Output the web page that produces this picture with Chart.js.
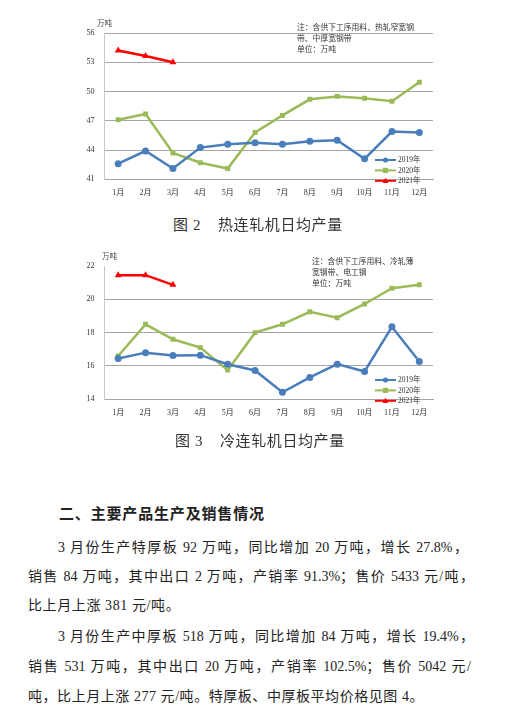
<!DOCTYPE html>
<html>
<head>
<meta charset="utf-8">
<title>热连轧机、冷连轧机日均产量</title>
<script src="https://cdn.jsdelivr.net/npm/chart.js@4"></script>
<style>
    body { margin: 0; background: #fff; width: 532px; height: 728px; position: relative; overflow: hidden;
           font-family: "Liberation Serif", "Noto Sans CJK SC", serif; color: #222; }
    .box { position: absolute; width: 390px; height: 195px; }
    .abs { position: absolute; white-space: pre; }
    .note { font-family: "Noto Sans CJK SC", sans-serif; font-size: 7.8px; line-height: 11px; color: #333; }
    .unit { font-family: "Noto Sans CJK SC", sans-serif; font-size: 7.5px; color: #444; }
    .cap { font-size: 15px; line-height: 16px; color: #333; letter-spacing: 0.6px; }
    .line { position: absolute; font-size: 14px; line-height: 16px; white-space: nowrap; }
    .just { text-align: justify; text-align-last: justify; white-space: normal; }
    h2 { position: absolute; margin: 0; font-family: "Noto Sans CJK SC", sans-serif; font-weight: bold;
         font-size: 15px; line-height: 18px; left: 59px; top: 504px; width: 205px;
         text-align: justify; text-align-last: justify; }
</style>
</head>
<body>
<div class="box" style="left:60px;top:12px"><canvas id="hotChart"></canvas></div>
<div class="box" style="left:60px;top:245px"><canvas id="coldChart"></canvas></div>

<div class="abs unit" style="left:97px;top:17px">万吨</div>
<div class="abs note" style="left:297px;top:21px">注：含供下工序用料、热轧窄宽钢
带、中厚宽钢带
单位：万吨</div>
<div class="abs cap" style="left:173px;top:217px">图 2</div>
<div class="abs cap" style="left:218px;top:217px">热连轧机日均产量</div>

<div class="abs unit" style="left:102px;top:250px">万吨</div>
<div class="abs note" style="left:312px;top:255px">注：含供下工序用料、冷轧薄
宽钢带、电工钢
单位：万吨</div>
<div class="abs cap" style="left:175px;top:433px">图 3</div>
<div class="abs cap" style="left:220px;top:433px">冷连轧机日均产量</div>

<h2>二、主要产品生产及销售情况</h2>
<div class="line just" style="left:58px;top:540px;width:410px">3 月份生产特厚板 92 万吨，同比增加 20 万吨，增长 27.8%，</div>
<div class="line just" style="left:28px;top:569px;width:446px">销售 84 万吨，其中出口 2 万吨，产销率 91.3%；售价 5433 元/吨，</div>
<div class="line" style="left:28px;top:598px;letter-spacing:0.6px">比上月上涨 381 元/吨。</div>
<div class="line just" style="left:58px;top:629px;width:416px">3 月份生产中厚板 518 万吨，同比增加 84 万吨，增长 19.4%，</div>
<div class="line just" style="left:28px;top:659px;width:443px">销售 531 万吨，其中出口 20 万吨，产销率 102.5%；售价 5042 元/</div>
<div class="line" style="left:28px;top:689px;letter-spacing:0.55px">吨，比上月上涨 277 元/吨。特厚板、中厚板平均价格见图 4。</div>

<script>
    // 月份
    var months = ['1月', '2月', '3月', '4月', '5月', '6月', '7月', '8月', '9月', '10月', '11月', '12月'];
    var seriesNames = ['2019年', '2020年', '2021年'];

    // 图2 热连轧机日均产量（万吨）
    var hot2019 = [42.6, 43.9, 42.1, 44.25, 44.6, 44.75, 44.6, 44.9, 45.0, 43.1, 45.9, 45.8];
    var hot2020 = [47.1, 47.7, 43.7, 42.7, 42.1, 45.8, 47.55, 49.2, 49.5, 49.3, 49.0, 50.95];
    var hot2021 = [54.2, 53.65, 53.0];
    var hotAxis = [41, 56, 3];   // min, max, step

    // 图3 冷连轧机日均产量（万吨）
    var cold2019 = [16.45, 16.8, 16.63, 16.65, 16.1, 15.73, 14.42, 15.31, 16.11, 15.67, 18.35, 16.27];
    var cold2020 = [16.6, 18.5, 17.6, 17.1, 15.75, 18.0, 18.5, 19.25, 18.9, 19.72, 20.67, 20.87];
    var cold2021 = [21.45, 21.45, 20.87];
    var coldAxis = [14, 22, 2];

    var colors = ['#4A7EBB', '#9BBB59', '#FF0000'];
    var styles = ['circle', 'rect', 'triangle'];

    function marker(ctx, style, x, y, r) {
        ctx.beginPath();
        if (style === 'circle') {
            ctx.arc(x, y, r, 0, Math.PI * 2);
        } else if (style === 'rect') {
            ctx.rect(x - r, y - r, r * 2, r * 2);
        } else {
            ctx.moveTo(x, y - r * 1.2);
            ctx.lineTo(x + r * 1.1, y + r * 0.8);
            ctx.lineTo(x - r * 1.1, y + r * 0.8);
            ctx.closePath();
        }
        ctx.fill();
    }

    // legend tucked into the lower right corner of the plot
    var cornerLegend = {
        id: 'cornerLegend',
        afterDraw: function(chart) {
            var ctx = chart.ctx, area = chart.chartArea;
            var sets = chart.data.datasets;
            sets.forEach(function(ds, i) {
                var y = area.bottom + 1.5 - (sets.length - 1 - i) * 10.4;
                var x0 = area.right - 58;
                ctx.save();
                ctx.strokeStyle = ds.borderColor;
                ctx.fillStyle = ds.borderColor;
                ctx.lineWidth = 2;
                ctx.beginPath();
                ctx.moveTo(x0, y);
                ctx.lineTo(x0 + 21, y);
                ctx.stroke();
                marker(ctx, ds.pointStyle, x0 + 10.5, y, 2.6);
                ctx.fillStyle = '#333';
                ctx.font = '7.5px "Liberation Serif", "Noto Sans CJK SC"';
                ctx.textBaseline = 'middle';
                ctx.fillText(ds.label, x0 + 23, y + 0.5);
                ctx.restore();
            });
        }
    };

    function makeChart(id, data, axis, padBottom, hideTop) {
        var ctx = document.getElementById(id).getContext('2d');
        return new Chart(ctx, {
            type: 'line',
            data: {
                labels: months,
                datasets: data.map(function(values, i) {
                    return {
                        label: seriesNames[i],
                        data: values,
                        borderColor: colors[i],
                        backgroundColor: colors[i],
                        borderWidth: 2.5,
                        pointStyle: styles[i],
                        pointRadius: i === 2 ? 4 : 3.5,
                        pointBorderWidth: 0,
                        tension: 0
                    };
                })
            },
            options: {
                responsive: true,
                maintainAspectRatio: false,
                animation: false,
                layout: { padding: { left: 0, top: 21, right: 17, bottom: padBottom } },
                plugins: { legend: { display: false }, tooltip: { enabled: false } },
                scales: {
                    x: {
                        offset: true,
                        grid: { display: false, drawTicks: false },
                        border: { color: '#a6a6a6', width: 1 },
                        ticks: { color: '#333', padding: 9, maxRotation: 0, autoSkip: false,
                                 font: { family: '"Liberation Serif", "Noto Sans CJK SC"', size: 8 } },
                        afterFit: function(s) { s.height = 22; }
                    },
                    y: {
                        min: axis[0],
                        max: axis[1],
                        ticks: { stepSize: axis[2], color: '#333', padding: 10,
                                 font: { family: '"Liberation Serif"', size: 8 } },
                        grid: {
                            drawTicks: false,
                            lineWidth: 1,
                            color: function(c) {
                                if (hideTop && c.tick && c.tick.value === axis[1]) return 'rgba(0,0,0,0)';
                                return '#a6a6a6';
                            }
                        },
                        border: { color: '#c8c8c8', width: 1 },
                        afterFit: function(s) { s.width = 44.5; }
                    }
                }
            },
            plugins: [cornerLegend]
        });
    }

    makeChart('hotChart', [hot2019, hot2020, hot2021], hotAxis, 5.7, false);
    makeChart('coldChart', [cold2019, cold2020, cold2021], coldAxis, 18.7, true);
</script>
</body>
</html>
